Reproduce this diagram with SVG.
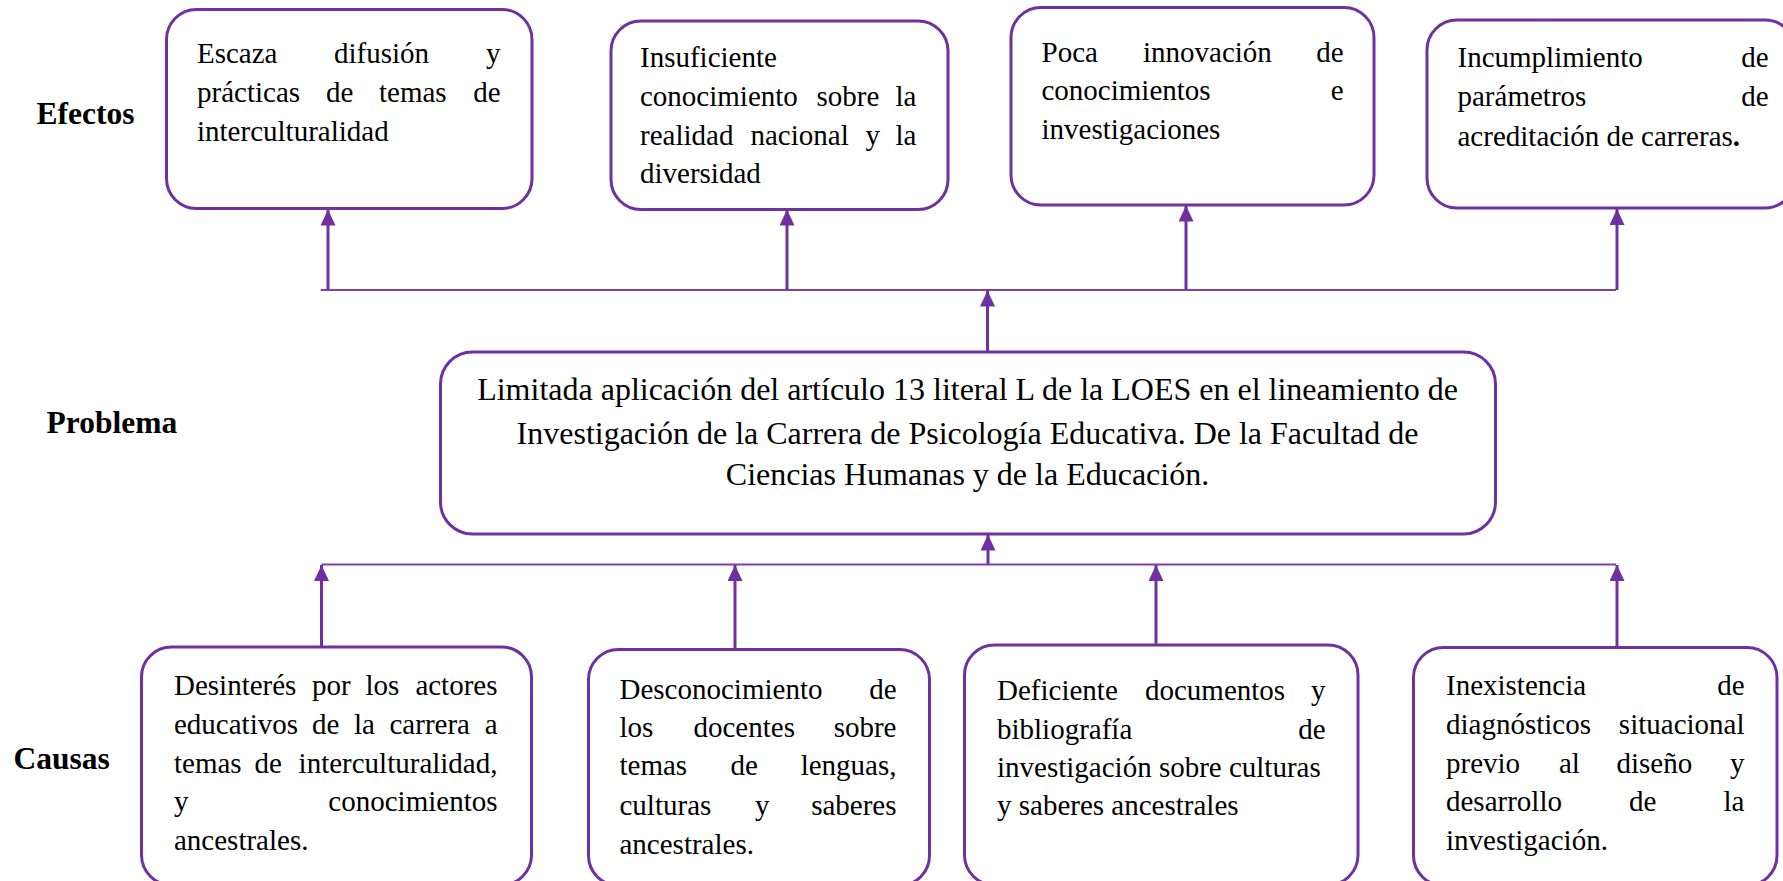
<svg xmlns="http://www.w3.org/2000/svg" width="1783" height="881" viewBox="0 0 1783 881">
<style>
.bg{fill:#ffffff}
.box{fill:#ffffff;stroke:#7030A0;stroke-width:3}
.t{font-family:"Liberation Serif","Times New Roman",serif;font-size:29px;fill:#000}
.r{text-anchor:end}
.p{font-family:"Liberation Serif","Times New Roman",serif;font-size:32px;fill:#000;text-anchor:middle}
.lbl{font-family:"Liberation Serif","Times New Roman",serif;font-size:31.5px;font-weight:bold;fill:#000}
.bus{stroke:#7F3FB0;stroke-width:2;fill:none}
.arr{stroke:#7030A0;stroke-width:3;fill:none;marker-end:url(#ah)}
</style>
<defs>
<marker id="ah" markerUnits="userSpaceOnUse" viewBox="0 0 16 15" refX="16" refY="7.5" markerWidth="16" markerHeight="15" orient="auto">
<path d="M0,0 L16,7.5 L0,15 z" fill="#7030A0"/>
</marker>
</defs>
<rect class="bg" x="0" y="0" width="1783" height="881"/>

<g id="labels">
<text class="lbl" x="36.5" y="124">Efectos</text>
<text class="lbl" x="46.5" y="433">Problema</text>
<text class="lbl" x="13.5" y="769">Causas</text>
</g>

<g id="connectors">
<line class="bus" x1="320.7" y1="290" x2="1616" y2="290"/>
<line class="bus" x1="321.5" y1="564.5" x2="1616" y2="564.5"/>
<line class="arr" x1="328" y1="290" x2="328" y2="209.5"/>
<line class="arr" x1="787" y1="290" x2="787" y2="209.5"/>
<line class="arr" x1="1186" y1="290" x2="1186" y2="205.5"/>
<line class="arr" x1="1617" y1="290" x2="1617" y2="209"/>
<line class="arr" x1="987.5" y1="352" x2="987.5" y2="290.5"/>
<line class="arr" x1="988" y1="564.5" x2="988" y2="534.5"/>
<line class="arr" x1="321.5" y1="647" x2="321.5" y2="565"/>
<line class="arr" x1="735" y1="649.5" x2="735" y2="565"/>
<line class="arr" x1="1156" y1="645" x2="1156" y2="565"/>
<line class="arr" x1="1617" y1="647.5" x2="1617" y2="565"/>
</g>

<g id="efecto1">
<rect class="box" x="166.5" y="9.5" width="365.5" height="199" rx="30"/>
<text class="t" x="197" y="63">Escaza</text><text class="t" x="334" y="63">difusión</text><text class="t r" x="500.5" y="63">y</text>
<text class="t" x="197" y="102">prácticas</text><text class="t" x="326" y="102">de</text><text class="t" x="379" y="102">temas</text><text class="t r" x="500.5" y="102">de</text>
<text class="t" x="197" y="141">interculturalidad</text>
</g>

<g id="efecto2">
<rect class="box" x="611" y="21" width="337" height="188.5" rx="30"/>
<text class="t" x="640" y="67">Insuficiente</text>
<text class="t" x="640" y="106">conocimiento</text><text class="t" x="816.5" y="106">sobre</text><text class="t r" x="916.5" y="106">la</text>
<text class="t" x="640" y="144.5">realidad</text><text class="t" x="750.5" y="144.5">nacional</text><text class="t" x="865.5" y="144.5">y</text><text class="t r" x="916.5" y="144.5">la</text>
<text class="t" x="640" y="183">diversidad</text>
</g>

<g id="efecto3">
<rect class="box" x="1011" y="7.5" width="363" height="197.5" rx="30"/>
<text class="t" x="1041.5" y="62">Poca</text><text class="t" x="1143" y="62">innovación</text><text class="t r" x="1343.5" y="62">de</text>
<text class="t" x="1041.5" y="100">conocimientos</text><text class="t r" x="1343.5" y="100">e</text>
<text class="t" x="1041.5" y="138.5">investigaciones</text>
</g>

<g id="efecto4">
<rect class="box" x="1427" y="20" width="368" height="188" rx="30"/>
<text class="t" x="1457.5" y="67">Incumplimiento</text><text class="t r" x="1768.5" y="67">de</text>
<text class="t" x="1457.5" y="106">parámetros</text><text class="t r" x="1768.5" y="106">de</text>
<text class="t" x="1457.5" y="146">acreditación de carreras<tspan font-weight="bold">.</tspan></text>
</g>

<g id="problema">
<rect class="box" x="440.5" y="352" width="1055" height="182" rx="32"/>
<text class="p" x="967.5" y="400">Limitada aplicación del artículo 13 literal L de la LOES en el lineamiento de</text>
<text class="p" x="967.5" y="443.5">Investigación de la Carrera de Psicología Educativa. De la Facultad de</text>
<text class="p" x="967.5" y="485">Ciencias Humanas y de la Educación.</text>
</g>

<g id="causa1">
<rect class="box" x="141.5" y="647" width="390" height="238" rx="30"/>
<text class="t" x="174" y="695">Desinterés</text><text class="t" x="312" y="695">por</text><text class="t" x="365.5" y="695">los</text><text class="t r" x="497.5" y="695">actores</text>
<text class="t" x="174" y="733.5">educativos</text><text class="t" x="312" y="733.5">de</text><text class="t" x="354" y="733.5">la</text><text class="t" x="389.5" y="733.5">carrera</text><text class="t r" x="497.5" y="733.5">a</text>
<text class="t" x="174" y="773">temas</text><text class="t" x="254.5" y="773">de</text><text class="t r" x="497.5" y="773">interculturalidad,</text>
<text class="t" x="174" y="811">y</text><text class="t r" x="497.5" y="811">conocimientos</text>
<text class="t" x="174" y="849.5">ancestrales.</text>
</g>

<g id="causa2">
<rect class="box" x="588.5" y="649.5" width="341" height="236" rx="30"/>
<text class="t" x="619.5" y="698.5">Desconocimiento</text><text class="t r" x="896.5" y="698.5">de</text>
<text class="t" x="619.5" y="737">los</text><text class="t" x="693.5" y="737">docentes</text><text class="t r" x="896.5" y="737">sobre</text>
<text class="t" x="619.5" y="775">temas</text><text class="t" x="730.5" y="775">de</text><text class="t r" x="896.5" y="775">lenguas,</text>
<text class="t" x="619.5" y="815">culturas</text><text class="t" x="755" y="815">y</text><text class="t r" x="896.5" y="815">saberes</text>
<text class="t" x="619.5" y="853.5">ancestrales.</text>
</g>

<g id="causa3">
<rect class="box" x="964.5" y="645" width="393.5" height="240" rx="30"/>
<text class="t" x="997" y="700">Deficiente</text><text class="t" x="1145" y="700">documentos</text><text class="t r" x="1325.5" y="700">y</text>
<text class="t" x="997" y="739">bibliografía</text><text class="t r" x="1325.5" y="739">de</text>
<text class="t" x="997" y="777">investigación sobre culturas</text>
<text class="t" x="997" y="815">y saberes ancestrales</text>
</g>

<g id="causa4">
<rect class="box" x="1413.5" y="647.5" width="363.5" height="238" rx="30"/>
<text class="t" x="1446" y="695">Inexistencia</text><text class="t r" x="1744.5" y="695">de</text>
<text class="t" x="1446" y="733.5">diagnósticos</text><text class="t r" x="1744.5" y="733.5">situacional</text>
<text class="t" x="1446" y="773">previo</text><text class="t" x="1559" y="773">al</text><text class="t" x="1616.5" y="773">diseño</text><text class="t r" x="1744.5" y="773">y</text>
<text class="t" x="1446" y="811">desarrollo</text><text class="t" x="1629" y="811">de</text><text class="t r" x="1744.5" y="811">la</text>
<text class="t" x="1446" y="849.5">investigación.</text>
</g>
</svg>
